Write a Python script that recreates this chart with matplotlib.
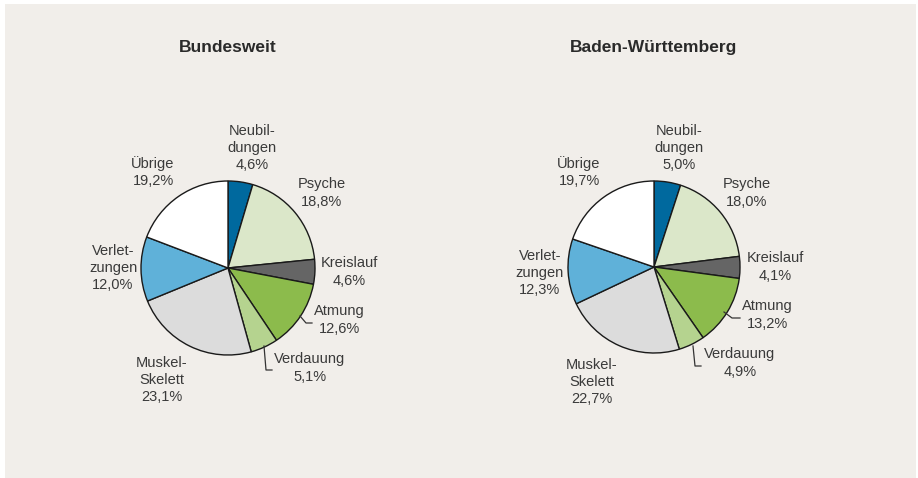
import matplotlib
matplotlib.use("Agg")
import matplotlib.pyplot as plt
from matplotlib.patches import Rectangle

plt.rcParams['font.family'] = ['Liberation Sans', 'DejaVu Sans']

categories = ["Neubildungen", "Psyche", "Kreislauf", "Atmung", "Verdauung",
              "Muskel-Skelett", "Verletzungen", "Übrige"]
label_names = ["Neubil-\ndungen", "Psyche", "Kreislauf", "Atmung", "Verdauung",
               "Muskel-\nSkelett", "Verlet-\nzungen", "Übrige"]
bund_values = [4.6, 18.8, 4.6, 12.6, 5.1, 23.1, 12.0, 19.2]
bw_values = [5.0, 18.0, 4.1, 13.2, 4.9, 22.7, 12.3, 19.7]
titles = ["Bundesweit", "Baden-Württemberg"]
colors = ["#00699e", "#dbe7c9", "#656565", "#8cbb4c", "#b5d38f",
          "#dcdcdc", "#5fb1d9", "#ffffff"]

W, H = 918, 478
fig = plt.figure(figsize=(W / 100, H / 100), dpi=100)
fig.patch.set_facecolor("white")
fig.patches.append(Rectangle((5 / W, -0.05), 911 / W, 1.05 - 4 / H, transform=fig.transFigure,
                             facecolor="#f1eeea", edgecolor="none", zorder=-5))

TXT = "#3a3a3a"

def fmt(v):
    return f"{v:.1f}".replace(".", ",") + "%"

layouts = [
    dict(cx=228, cy=268, r=87, title_x=228,
         labels=[(252, 148), (322, 193), (349, 272), (339, 320), (310, 368),
                 (162, 380), (113, 268), (153, 172)],
         leaders=[[(300, 316), (306, 323), (312, 323)],
                  [(264, 346), (266, 370), (272, 370)]]),
    dict(cx=654, cy=267, r=86, title_x=654,
         labels=[(679, 148), (747, 193), (775, 267), (767, 315), (740, 363),
                 (592, 382), (540, 273), (579, 172)],
         leaders=[[(724, 312), (732, 318), (740, 318)],
                  [(693, 346), (695, 366), (701, 366)]]),
]

for vals, title, lay in zip([bund_values, bw_values], titles, layouts):
    cx, cy, r = lay["cx"], lay["cy"], lay["r"]
    ax = fig.add_axes([(cx - r) / W, 1 - (cy + r) / H, 2 * r / W, 2 * r / H])
    ax.set_zorder(2)
    ax.pie(vals, colors=colors, startangle=90, counterclock=False, radius=1,
           wedgeprops=dict(edgecolor="#1a1a1a", linewidth=1.0))
    ax.set_xlim(-1, 1)
    ax.set_ylim(-1, 1)
    ax.set_aspect("equal")
    ax.axis("off")

    def to_data(px, py):
        return (px - cx) / r, (cy - py) / r

    for name, v, (px, py) in zip(label_names, vals, lay["labels"]):
        x, y = to_data(px, py)
        ax.text(x, y, f"{name}\n{fmt(v)}", ha="center", va="center",
                fontsize=10.5, color=TXT, linespacing=1.3, clip_on=False)
    for pts in lay["leaders"]:
        xs, ys = zip(*[to_data(*p) for p in pts])
        ax.plot(xs, ys, color="#333333", lw=0.9, clip_on=False)

    fig.text(lay["title_x"] / W, 1 - 47 / H, title, ha="center", va="center",
             fontsize=12.5, fontweight="bold", color="#2a2a2a")

fig.savefig("out.png", dpi=100, facecolor=fig.get_facecolor())
